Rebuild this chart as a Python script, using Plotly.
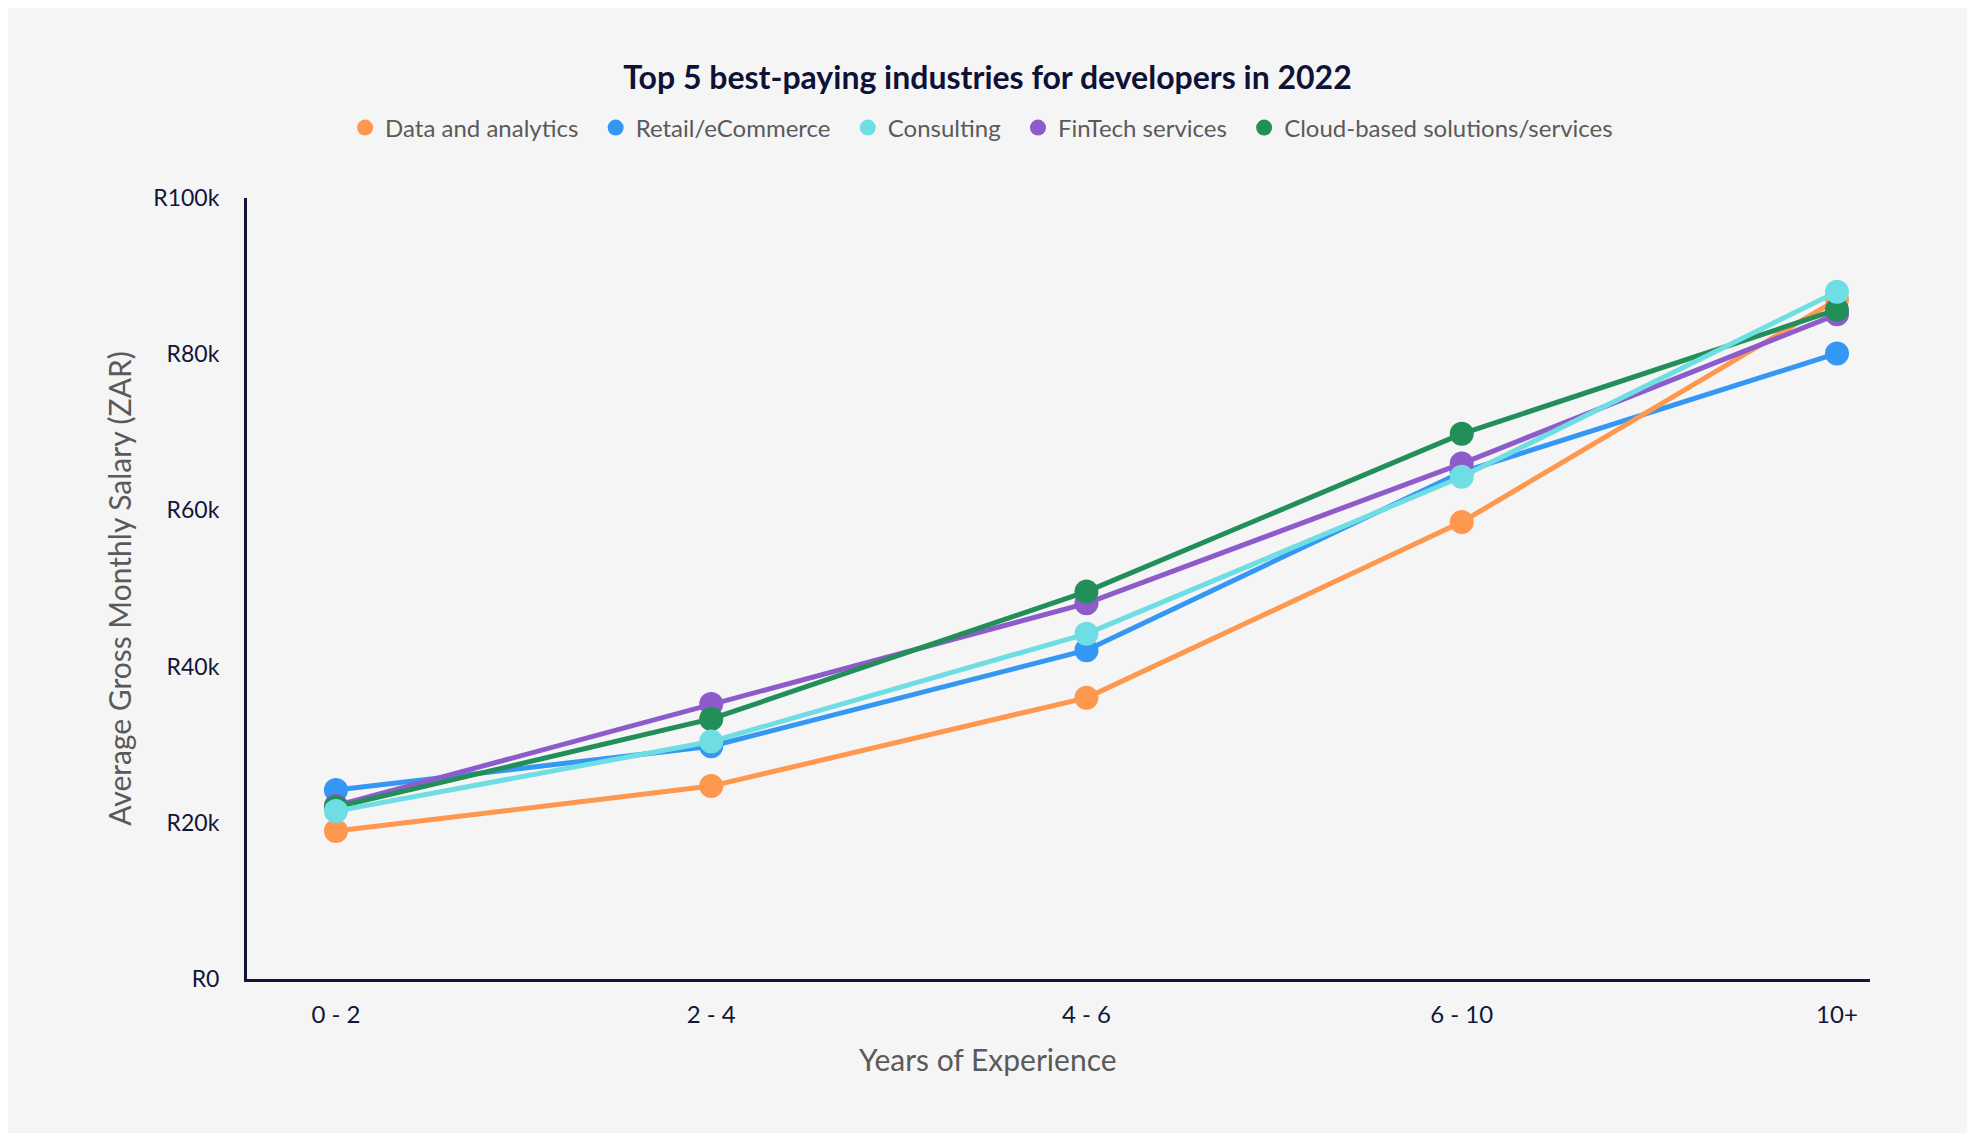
import plotly.graph_objects as go

experience = ["0 - 2", "2 - 4", "4 - 6", "6 - 10", "10+"]

data_analytics = [18950, 24700, 36000, 58500, 87000]
retail_ecommerce = [24200, 29800, 42100, 64900, 80100]
consulting = [21500, 30400, 44200, 64300, 88000]
fintech = [22200, 35200, 48100, 66000, 85100]
cloud = [22000, 33300, 49600, 69800, 85700]

series_names = ["Data and analytics", "Retail/eCommerce", "Consulting",
                "FinTech services", "Cloud-based solutions/services"]
series_values = [data_analytics, retail_ecommerce, consulting, fintech, cloud]
series_colors = ["#FF984F", "#3397F3", "#6EDEE4", "#8E5BCB", "#218F57"]

# drawing order (bottom -> top)
draw_order = [1, 0, 3, 4, 2]

y_tickvals = [0, 20000, 40000, 60000, 80000, 100000]
y_ticktext = ["R0", "R20k", "R40k", "R60k", "R80k", "R100k"]

navy = "#12163A"
grey = "#5a5a5a"
font_family = "Lato, 'Open Sans', sans-serif"

W, H = 1959, 1125
ML, MR, MT, MB = 239, 97, 190, 154
plot_w = W - ML - MR
plot_h = H - MT - MB

fig = go.Figure()

for i in draw_order:
    fig.add_trace(go.Scatter(
        x=experience, y=series_values[i], mode="lines+markers",
        name=series_names[i], showlegend=False,
        line=dict(color=series_colors[i], width=5),
        marker=dict(color=series_colors[i], size=24),
    ))

for k, (name, color) in enumerate(zip(series_names, series_colors)):
    pad = "\u00a0\u00a0" if k < len(series_names) - 1 else ""
    fig.add_trace(go.Scatter(
        x=[None], y=[None], mode="markers", name=name + pad,
        marker=dict(color=color, size=17),
    ))

fig.add_annotation(
    text="Years of Experience", showarrow=False,
    xref="paper", yref="paper",
    x=(W / 2 - ML) / plot_w, xanchor="center",
    y=-(1051 - (H - MB)) / plot_h, yanchor="middle",
    font=dict(size=30, color=grey, family=font_family),
)

fig.update_layout(
    width=W, height=H,
    paper_bgcolor="#F5F5F5", plot_bgcolor="#F5F5F5",
    margin=dict(l=ML, r=MR, t=MT, b=MB),
    font=dict(family=font_family, color=navy),
    title=dict(
        text="<b>Top 5 best-paying industries for developers in 2022</b>",
        x=0.5, xanchor="center", y=1 - 70 / H, yanchor="middle",
        font=dict(size=32, color="#0E1236", family=font_family),
    ),
    legend=dict(
        orientation="h", xref="container", x=0.497, xanchor="center",
        yref="container", y=1 - 120 / H, yanchor="middle",
        font=dict(size=24, color=grey), bgcolor="rgba(0,0,0,0)",
        itemwidth=30, tracegroupgap=0,
    ),
    xaxis=dict(
        type="category", range=[-0.237, 4.088],
        showgrid=False, zeroline=False,
        showline=True, linecolor=navy, linewidth=3,
        ticks="", ticklabelstandoff=12,
        tickfont=dict(size=24, color=navy),
    ),
    yaxis=dict(
        range=[0, 100000], tickvals=y_tickvals, ticktext=y_ticktext,
        showgrid=False, zeroline=False,
        showline=True, linecolor=navy, linewidth=3,
        ticks="", ticklabelstandoff=20,
        tickfont=dict(size=23, color=navy),
        title=dict(text="Average Gross Monthly Salary (ZAR)", standoff=13,
                   font=dict(size=30, color=grey)),
    ),
)

fig.write_html("out.html")
